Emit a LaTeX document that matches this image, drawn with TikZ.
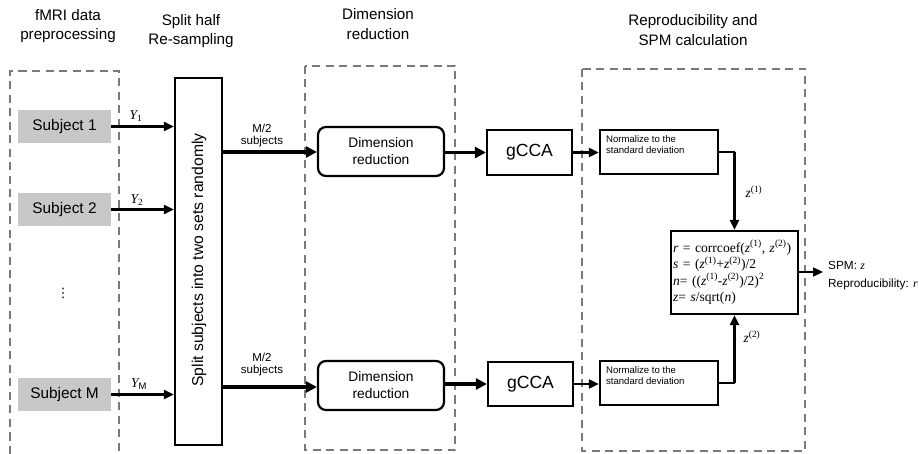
\documentclass[tikz,border=0pt]{standalone}
\usepackage{fontspec}
\setmainfont{Liberation Sans}
\newfontfamily\tms{Liberation Serif}
\newfontfamily\dejavu{DejaVu Sans}
\usetikzlibrary{arrows.meta}
\definecolor{dashgray}{HTML}{7A7A7A}
\definecolor{subjgray}{HTML}{C8C8C8}
\tikzset{
  grp/.style={draw=dashgray, line width=1.6pt, dash pattern=on 8pt off 5.5pt},
  subj/.style={fill=subjgray, minimum width=93pt, minimum height=33pt, inner sep=0pt, font=\fontsize{15.4}{18}\selectfont},
  blk/.style={draw, line width=2.2pt, inner sep=0pt},
  hdr/.style={align=center, font=\fontsize{15.2}{19.5}\selectfont},
  thin/.style={line width=2.2pt, -{Triangle[length=10pt,width=9pt]}},
  thick/.style={line width=3.8pt, -{Triangle[length=11pt,width=11pt]}},
  plain/.style={line width=2.2pt},
  small/.style={font=\fontsize{11.5}{12}\selectfont, align=center},
  mathlbl/.style={font=\tms\itshape\fontsize{13.5}{15}\selectfont, inner sep=0pt}
}
\begin{document}
\begin{tikzpicture}[x=1pt,y=-1pt]
\useasboundingbox (0,0) rectangle (919,454);

% headers
\node[hdr] (h1) at (68,26) {fMRI data\\preprocessing};
\node[hdr] (h2) at (191,31) {Split half\\Re-sampling};
\node[hdr] (h3) at (378,24) {Dimension\\reduction};
\node[hdr] (h4) at (693,30) {Reproducibility and\\SPM calculation};

% dashed group boxes
\draw[grp] (10,454) -- (10,71) -- (119,71) -- (119,454);
\draw[grp] (305,66) rectangle (455,450);
\draw[grp] (582,69) rectangle (805,451);

% subjects
\node[subj] (s1) at (64.5,126.5) {Subject 1};
\node[subj] (s2) at (64.5,209.5) {Subject 2};
\node[subj] (sm) at (64.5,394.5) {Subject M};
\node[font=\dejavu\fontsize{13}{13}\selectfont, inner sep=0pt] (dots) at (63,293) {⋮};

% split box
\node[blk, minimum width=47pt, minimum height=367pt] (split) at (198.5,261.5) {};
\node[rotate=90, font=\fontsize{15.7}{16}\selectfont] (splittxt) at (199,260) {Split subjects into two sets randomly};

% arrows subjects -> split
\draw[thin] (s1.east) -- (s1.east -| split.west);
\draw[thin] (s2.east) -- (s2.east -| split.west);
\draw[thin] (sm.east) -- (sm.east -| split.west);
\node[mathlbl] (y1) at (136,116) {Y\textsubscript{\upshape 1}};
\node[mathlbl] (y2) at (137,200) {Y\textsubscript{\upshape 2}};
\node[mathlbl] (ym) at (139,384) {Y\textsubscript{\upshape\fontspec{Liberation Sans}M}};

% dimension reduction
\node[blk, rounded corners=8pt, minimum width=126pt, minimum height=49pt, align=center, font=\fontsize{13.8}{17}\selectfont] (dr1) at (381,151.5) {Dimension\\reduction};
\node[blk, rounded corners=8pt, minimum width=126pt, minimum height=49pt, align=center, font=\fontsize{13.8}{17}\selectfont] (dr2) at (381,385.5) {Dimension\\reduction};

\draw[thick] (split.east |- 0,152) coordinate (a1) -- (dr1.west |- a1);
\draw[thick] (split.east |- 0,387) coordinate (a2) -- (dr2.west |- a2);
\node[small] (m1) at (262,136) {M/2\\subjects};
\node[small] (m2) at (262,365) {M/2\\subjects};

% gCCA
\node[blk, minimum width=85pt, minimum height=45pt, font=\fontsize{17.6}{20}\selectfont] (g1) at (529.5,152.5) {gCCA};
\node[blk, minimum width=85pt, minimum height=44pt, font=\fontsize{17.6}{20}\selectfont] (g2) at (530.5,384) {gCCA};
\draw[thick] (dr1.east |- g1.west) -- (g1.west);
\draw[thick] (dr2.east |- g2.west) -- (g2.west);

% normalize
\node[blk, minimum width=118pt, minimum height=44pt] (n1) at (659,152) {};
\node[blk, minimum width=118pt, minimum height=44pt] (n2) at (659,383) {};
\node[anchor=north west, align=left, font=\fontsize{9.6}{11.5}\selectfont, inner sep=0pt] (n1t) at ([xshift=7pt,yshift=-6pt]n1.north west) {Normalize to the\\standard deviation};
\node[anchor=north west, align=left, font=\fontsize{9.6}{11.5}\selectfont, inner sep=0pt] (n2t) at ([xshift=7pt,yshift=-6pt]n2.north west) {Normalize to the\\standard deviation};
\draw[thin] (g1.east) -- (g1.east -| n1.west);
\draw[thin] (g2.east) -- (g2.east -| n2.west);

% formula box
\node[blk, text width=123pt, inner xsep=2pt, minimum height=83pt, align=left, font=\tms\fontsize{13.6}{16.5}\selectfont] (f) at (734.5,272.5)
{\textit{r} = corrcoef(\textit{z}\textsuperscript{(1)}, \textit{z}\textsuperscript{(2)})\\
\textit{s} = (\textit{z}\textsuperscript{(1)}+\textit{z}\textsuperscript{(2)})/2\\
\textit{n}= ((\textit{z}\textsuperscript{(1)}-\textit{z}\textsuperscript{(2)})/2)\textsuperscript{2}\\
\textit{z}= \textit{s}/sqrt(\textit{n})};

\draw[plain] (n1.east) -- (n1.east -| f.north) coordinate (c1);
\draw[thin] (c1) -- (f.north);
\draw[plain] (n2.east) -- (n2.east -| f.south) coordinate (c2);
\draw[thin] (c2) -- (f.south);
\node[mathlbl] (z1) at (754,192) {z\textsuperscript{\upshape(1)}};
\node[mathlbl] (z2) at (752,337) {z\textsuperscript{\upshape(2)}};

% output
\coordinate (out) at (823,272);
\draw[thin] (f.east |- out) -- (out);
\node[anchor=west, font=\fontsize{11.8}{13}\selectfont, inner sep=0pt] (spm) at (828,265) {SPM: {\tms\itshape z}};
\node[anchor=west, font=\fontsize{11.8}{13}\selectfont, inner sep=0pt] (rep) at (828,284) {Reproducibility: {\tms\itshape r}};
\end{tikzpicture}
\end{document}
